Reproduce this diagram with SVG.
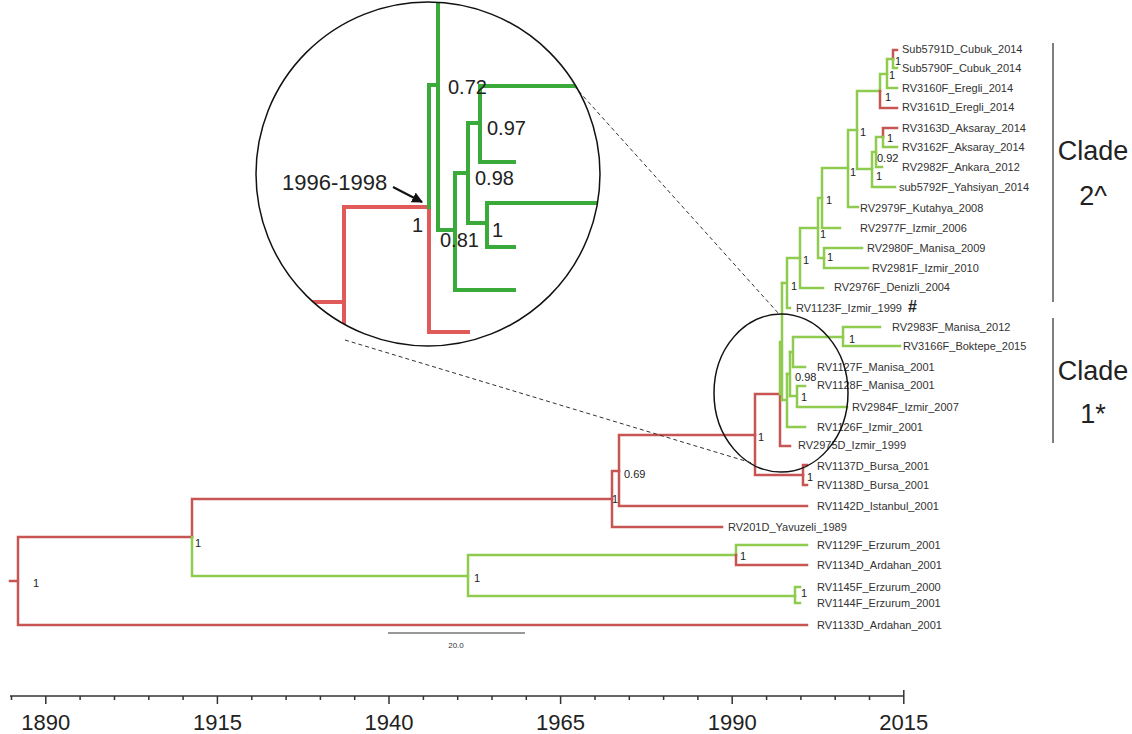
<svg xmlns="http://www.w3.org/2000/svg" width="1132" height="734" viewBox="0 0 1132 734">
<style>
.g{stroke:#8fcb4f;stroke-width:2.5;fill:none;stroke-linecap:square}
.r{stroke:#c65553;stroke-width:2.5;fill:none;stroke-linecap:square}
.ig{stroke:#3aab3a;stroke-width:4;fill:none;stroke-linecap:square}
.ir{stroke:#e05a5a;stroke-width:4;fill:none;stroke-linecap:square}
.tip{font-family:"Liberation Sans",Arial,sans-serif;font-size:11px;fill:#333}
.sup{font-family:"Liberation Sans",Arial,sans-serif;font-size:11px;fill:#222}
.isup{font-family:"Liberation Sans",Arial,sans-serif;font-size:20px;fill:#222}
.ax{font-family:"Liberation Sans",Arial,sans-serif;font-size:22px;fill:#222;text-anchor:middle}
.clade{font-family:"Liberation Sans",Arial,sans-serif;font-size:27px;fill:#222;text-anchor:middle}
.dash{stroke:#333;stroke-width:1;stroke-dasharray:4 3;fill:none}
</style>
<defs>
<clipPath id="insetClip"><circle cx="428" cy="174" r="172"/></clipPath>
<marker id="arrow" viewBox="0 0 10 10" refX="9" refY="5" markerWidth="5.5" markerHeight="5.5" orient="auto"><path d="M0,0 L10,5 L0,10 z" fill="#111"/></marker>
</defs>
<rect width="1132" height="734" fill="#fff"/>

<g id="connectors">
<path class="r" d="M10,581 H18 M18,537 V625 M18,537 H192 M18,625 H807"/>
<path class="r" d="M192,499 V537 M192,499 H612"/>
<path class="g" d="M192,537 V576 M192,576 H468"/>
<path class="r" d="M612,471 V527 M612,471 H619 M612,527 H722"/>
<path class="r" d="M619,435 V506 M619,435 H755 M619,506 H807"/>
<path class="r" d="M755,394 V475 M755,394 H780 M755,475 H803"/>
<path class="r" d="M803,465 V485 M803,465 H807 M803,485 H807"/>
<path class="g" d="M468,555 V596 M468,555 H736 M468,596 H795"/>
<path class="g" d="M736,545 V555 M736,545 H807"/>
<path class="r" d="M736,555 V565 M736,565 H807"/>
<path class="g" d="M795,587 V603 M795,587 H800 M795,603 H800"/>
<path class="r" d="M780,394 V446 H790"/>
<path class="g" d="M780,342 V394 M780,342 H782 M782,283 V400"/>
<path class="g" d="M782,400 H787 M787,374 V427 M787,427 H805"/>
<path class="g" d="M787,374 H790 M790,352 V396"/>
<path class="g" d="M790,352 H793 M793,337 V367 M793,367 H805 M793,337 H843"/>
<path class="g" d="M790,396 H797 M797,386 V407 M797,386 H805 M797,407 H847"/>
<path class="g" d="M843,327 V346 M843,327 H880 M843,346 H900"/>
<path class="g" d="M782,283 H787 M787,258 V308 M787,308 H790 M787,258 H800"/>
<path class="g" d="M800,228 V288 M800,288 H823 M800,228 H818"/>
<path class="g" d="M818,198 V258 M818,198 H822 M818,258 H824"/>
<path class="g" d="M824,248 V268 M824,248 H862 M824,268 H868"/>
<path class="g" d="M822,168 V228 M822,228 H840 M822,168 H848"/>
<path class="g" d="M848,130 V207 M848,207 H858 M848,130 H857"/>
<path class="g" d="M857,91 V169 M857,91 H880 M857,169 H872"/>
<path class="g" d="M880,74 V91 M880,74 H887"/>
<path class="r" d="M880,91 V108 H897"/>
<path class="g" d="M887,59 V88 M887,88 H897 M887,59 H893"/>
<path class="r" d="M893,50 V59 M893,50 H897"/>
<path class="g" d="M893,59 V68 H897"/>
<path class="g" d="M872,152 V187 M872,187 H895 M872,152 H876"/>
<path class="g" d="M876,137 V167 M876,167 H882 M876,137 H883"/>
<path class="r" d="M883,128 V137 M883,128 H897"/>
<path class="g" d="M883,137 V147 H897"/>
</g>

<g id="support">
<text class="sup" x="33" y="587">1</text>
<text class="sup" x="195" y="547">1</text>
<text class="sup" x="612" y="503">1</text>
<text class="sup" x="624" y="478">0.69</text>
<text class="sup" x="758" y="441">1</text>
<text class="sup" x="807" y="481">1</text>
<text class="sup" x="474" y="582">1</text>
<text class="sup" x="740" y="560">1</text>
<text class="sup" x="801" y="597">1</text>
<text class="sup" x="849" y="343">1</text>
<text class="sup" x="795" y="381">0.98</text>
<text class="sup" x="801" y="401">1</text>
<text class="sup" x="895" y="65">1</text>
<text class="sup" x="889" y="79">1</text>
<text class="sup" x="885" y="101">1</text>
<text class="sup" x="860" y="136">1</text>
<text class="sup" x="887" y="142">1</text>
<text class="sup" x="877" y="162">0.92</text>
<text class="sup" x="876" y="180">1</text>
<text class="sup" x="850" y="176">1</text>
<text class="sup" x="826" y="204">1</text>
<text class="sup" x="820" y="238">1</text>
<text class="sup" x="827" y="261">1</text>
<text class="sup" x="803" y="264">1</text>
<text class="sup" x="791" y="290">1</text>
</g>

<g id="tip-Sub5791D"><text class="tip" x="902" y="53">Sub5791D_Cubuk_2014</text></g>
<g id="tip-Sub5790F"><text class="tip" x="902" y="72">Sub5790F_Cubuk_2014</text></g>
<g id="tip-RV3160F"><text class="tip" x="902" y="92">RV3160F_Eregli_2014</text></g>
<g id="tip-RV3161D"><text class="tip" x="902" y="111">RV3161D_Eregli_2014</text></g>
<g id="tip-RV3163D"><text class="tip" x="902" y="132">RV3163D_Aksaray_2014</text></g>
<g id="tip-RV3162F"><text class="tip" x="902" y="151">RV3162F_Aksaray_2014</text></g>
<g id="tip-RV2982F"><text class="tip" x="902" y="171">RV2982F_Ankara_2012</text></g>
<g id="tip-sub5792F"><text class="tip" x="899" y="191">sub5792F_Yahsiyan_2014</text></g>
<g id="tip-RV2979F"><text class="tip" x="860" y="212">RV2979F_Kutahya_2008</text></g>
<g id="tip-RV2977F"><text class="tip" x="860" y="232">RV2977F_Izmir_2006</text></g>
<g id="tip-RV2980F"><text class="tip" x="867" y="252">RV2980F_Manisa_2009</text></g>
<g id="tip-RV2981F"><text class="tip" x="872" y="272">RV2981F_Izmir_2010</text></g>
<g id="tip-RV2976F"><text class="tip" x="834" y="291">RV2976F_Denizli_2004</text></g>
<g id="tip-RV1123F"><text class="tip" x="796" y="312">RV1123F_Izmir_1999</text><text x="908" y="312" font-family="Liberation Sans, Arial, sans-serif" font-size="16" font-weight="bold" fill="#222">#</text></g>
<g id="tip-RV2983F"><text class="tip" x="892" y="331">RV2983F_Manisa_2012</text></g>
<g id="tip-RV3166F"><text class="tip" x="903" y="350">RV3166F_Boktepe_2015</text></g>
<g id="tip-RV1127F"><text class="tip" x="817" y="371">RV1127F_Manisa_2001</text></g>
<g id="tip-RV1128F"><text class="tip" x="817" y="389">RV1128F_Manisa_2001</text></g>
<g id="tip-RV2984F"><text class="tip" x="852" y="411">RV2984F_Izmir_2007</text></g>
<g id="tip-RV1126F"><text class="tip" x="817" y="431">RV1126F_Izmir_2001</text></g>
<g id="tip-RV2975D"><text class="tip" x="798" y="449">RV2975D_Izmir_1999</text></g>
<g id="tip-RV1137D"><text class="tip" x="817" y="470">RV1137D_Bursa_2001</text></g>
<g id="tip-RV1138D"><text class="tip" x="817" y="489">RV1138D_Bursa_2001</text></g>
<g id="tip-RV1142D"><text class="tip" x="817" y="510">RV1142D_Istanbul_2001</text></g>
<g id="tip-RV201D"><text class="tip" x="728" y="531">RV201D_Yavuzeli_1989</text></g>
<g id="tip-RV1129F"><text class="tip" x="817" y="549">RV1129F_Erzurum_2001</text></g>
<g id="tip-RV1134D"><text class="tip" x="817" y="569">RV1134D_Ardahan_2001</text></g>
<g id="tip-RV1145F"><text class="tip" x="817" y="591">RV1145F_Erzurum_2000</text></g>
<g id="tip-RV1144F"><text class="tip" x="817" y="607">RV1144F_Erzurum_2001</text></g>
<g id="tip-RV1133D"><text class="tip" x="817" y="629">RV1133D_Ardahan_2001</text></g>

<g id="zoom-marks">
<ellipse cx="781" cy="393" rx="67" ry="79" fill="none" stroke="#111" stroke-width="1.5"/>
<path class="dash" d="M574,86 L779,314"/>
<path class="dash" d="M345,340 L752,463"/>
</g>

<g id="inset">
<g clip-path="url(#insetClip)">
<path class="ir" d="M250,302 H344 M344,207 V360 M344,207 H428 M429,207 V332 H468"/>
<path class="ig" d="M429,207 V85 H438 M438,0 V230 H455 M455,173 V290 H514 M455,173 H468 M468,123 V223 H487 M487,203 V247 H514 M487,203 H620 M468,123 H480 M480,86 V162 H514 M480,86 H620"/>
</g>
<circle cx="428" cy="174" r="172" fill="none" stroke="#111" stroke-width="1.5"/>
<text class="isup" x="448" y="94">0.72</text>
<text class="isup" x="487" y="135">0.97</text>
<text class="isup" x="475" y="185">0.98</text>
<text class="isup" x="492" y="237">1</text>
<text class="isup" x="440" y="247">0.81</text>
<text class="isup" x="412" y="232">1</text>
<text x="282" y="190" font-family="Liberation Sans, Arial, sans-serif" font-size="22" fill="#222">1996-1998</text>
<path d="M393,187 L422,202" stroke="#111" stroke-width="2" marker-end="url(#arrow)"/>
</g>

<g id="scale-bar">
<path d="M388,633 H525" stroke="#333" stroke-width="1"/>
<text x="456" y="648" font-family="Liberation Sans, Arial, sans-serif" font-size="8" fill="#333" text-anchor="middle">20.0</text>
</g>

<g id="axis" stroke="#333" stroke-width="1.5">
<path d="M10,696 H904"/>
<path d="M11.5,696 v4 M45.8,696 v8 M80.1,696 v4 M114.5,696 v4 M148.8,696 v4 M183.1,696 v4 M217.4,696 v8 M251.8,696 v4 M286.1,696 v4 M320.4,696 v4 M354.7,696 v4 M389,696 v8 M423.4,696 v4 M457.7,696 v4 M492,696 v4 M526.3,696 v4 M560.6,696 v8 M595,696 v4 M629.3,696 v4 M663.6,696 v4 M697.9,696 v4 M732.2,696 v8 M766.6,696 v4 M800.9,696 v4 M835.2,696 v4 M869.5,696 v4 M903.8,690 v14"/>
</g>
<g id="axis-labels">
<text class="ax" x="45.8" y="730">1890</text>
<text class="ax" x="217.4" y="730">1915</text>
<text class="ax" x="389" y="730">1940</text>
<text class="ax" x="560.6" y="730">1965</text>
<text class="ax" x="732.2" y="730">1990</text>
<text class="ax" x="903.8" y="730">2015</text>
</g>

<g id="clade2">
<path d="M1053,43 V302" stroke="#555" stroke-width="1.5"/>
<text class="clade" x="1093" y="160">Clade</text>
<text class="clade" x="1093" y="205">2^</text>
</g>
<g id="clade1">
<path d="M1053,318 V443" stroke="#555" stroke-width="1.5"/>
<text class="clade" x="1093" y="380">Clade</text>
<text class="clade" x="1093" y="423">1*</text>
</g>
</svg>
